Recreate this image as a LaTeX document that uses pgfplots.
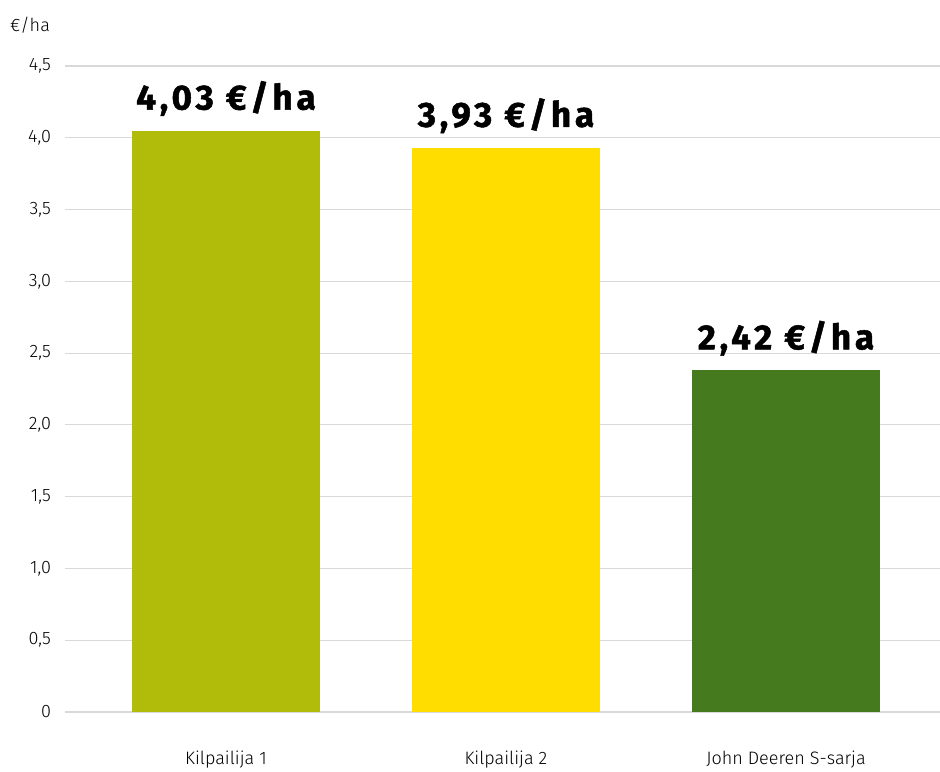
\documentclass[border=0pt]{standalone}
\usepackage{fontspec}
\setmainfont{Fira Sans}[UprightFont={* Light}, BoldFont={* Bold}]
\newfontfamily\lblfont{Fira Sans}[UprightFont={* Bold}, LetterSpace=11, FakeBold=1.4]
\usepackage{pgfplots}
\pgfplotsset{compat=1.18}
\definecolor{c1}{RGB}{177,187,10}
\definecolor{c2}{RGB}{255,221,0}
\definecolor{c3}{RGB}{69,122,30}
\definecolor{gridc}{RGB}{217,217,217}
\begin{document}
\begin{tikzpicture}
\useasboundingbox (-32.5pt,-29.5pt) rectangle (437.5pt,356pt);
\begin{axis}[
  scale only axis,
  width=437.5pt, height=323pt,
  xmin=-0.575, xmax=2.55,
  ymin=0, ymax=4.5,
  axis line style={draw=none},
  ytick={0,0.5,1,1.5,2,2.5,3,3.5,4,4.5},
  yticklabels={0,{0,5},{1,0},{1,5},{2,0},{2,5},{3,0},{3,5},{4,0},{4,5}},
  xtick={0,1,2},
  xticklabels={Kilpailija 1,Kilpailija 2,John Deeren S-sarja},
  major tick length=0pt,
  ymajorgrids,
  grid style={gridc, line width=0.6pt},
  tick label style={font=\fontsize{9}{10}\selectfont, text=black},
  yticklabel style={xshift=-3.5pt},
  xticklabel style={yshift=-16pt},
  ybar, bar width=0.671, bar shift=0pt,
  point meta=explicit symbolic,
  nodes near coords,
  nodes near coords style={font=\lblfont\fontsize{17.5}{18}\selectfont, anchor=base, yshift=10.5pt, text=black},
  clip=false,
]
\addplot[fill=c1, draw=none] coordinates {(0,4.05) [4,03 €/ha]};
\addplot[fill=c2, draw=none] coordinates {(1,3.93) [3,93 €/ha]};
\addplot[fill=c3, draw=none] coordinates {(2,2.38) [2,42 €/ha]};
\node[font=\fontsize{9}{10}\selectfont, anchor=center] at (rel axis cs:0,1) [xshift=-17.5pt, yshift=20.5pt] {€/ha};
\end{axis}
\end{tikzpicture}
\end{document}
